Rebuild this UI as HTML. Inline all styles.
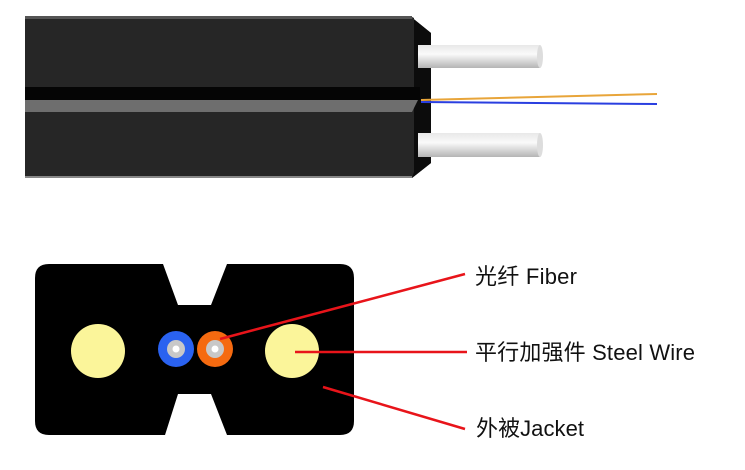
<!DOCTYPE html>
<html><head><meta charset="utf-8"><style>
html,body{margin:0;padding:0;background:#fff;width:745px;height:470px;overflow:hidden}
svg{display:block}
text{font-family:"Liberation Sans","Noto Sans CJK SC",sans-serif;font-size:22px;fill:#111}
</style></head><body>
<svg width="745" height="470" viewBox="0 0 745 470" xmlns="http://www.w3.org/2000/svg">
<defs>
<linearGradient id="w" x1="0" y1="0" x2="0" y2="1">
<stop offset="0" stop-color="#e8e8e8"/><stop offset="0.4" stop-color="#fafafa"/><stop offset="1" stop-color="#b5b5b5"/>
</linearGradient>
</defs>
<polygon points="25,16 410,16 431,33 431,163 412,178 25,178" fill="#262626"/>
<polygon points="410,16 431,33 431,163 412,178 414,172 414,18" fill="#0c0c0c"/>
<rect x="25" y="16" width="387" height="3" fill="#555"/>
<rect x="25" y="87" width="395" height="13" fill="#050505"/>
<polygon points="25,100 418,100 412,112 25,112" fill="#6e6e6e"/>
<rect x="25" y="176" width="387" height="2" fill="#888"/>
<rect x="418" y="45" width="122" height="23" fill="url(#w)"/>
<ellipse cx="540" cy="56.5" rx="3" ry="11.5" fill="#ddd"/>
<rect x="418" y="133" width="122" height="24" fill="url(#w)"/>
<ellipse cx="540" cy="145" rx="3" ry="12" fill="#ddd"/>
<line x1="421" y1="100" x2="657" y2="94" stroke="#e8a53a" stroke-width="2"/>
<line x1="421" y1="102" x2="657" y2="104" stroke="#2a3fe0" stroke-width="2"/>
<path d="M49,264 H163 L178,305 H211 L227,264 H340 Q354,264 354,278 V421 Q354,435 340,435 H227 L211,394 H178 L165,435 H49 Q35,435 35,421 V278 Q35,264 49,264 Z" fill="#000"/>
<circle cx="98" cy="351" r="27" fill="#fbf59a"/>
<circle cx="292" cy="351" r="27" fill="#fbf59a"/>
<circle cx="176" cy="349" r="18" fill="#2a62f0"/>
<circle cx="176" cy="349" r="9" fill="#c8c8c8"/>
<circle cx="176" cy="349" r="3.5" fill="#fff"/>
<circle cx="215" cy="349" r="18" fill="#f56a10"/>
<circle cx="215" cy="349" r="9" fill="#c8c8c8"/>
<circle cx="215" cy="349" r="3.5" fill="#fff"/>
<g stroke="#e8141a" stroke-width="2.5" fill="none">
<line x1="220" y1="339" x2="465" y2="274"/>
<line x1="295" y1="352" x2="467" y2="352"/>
<line x1="323" y1="387" x2="465" y2="429"/>
</g>
<text x="475" y="284" textLength="102">光纤 Fiber</text>
<text x="475" y="360" textLength="220">平行加强件 Steel Wire</text>
<text x="476" y="436" textLength="108">外被Jacket</text>
</svg>
</body></html>
